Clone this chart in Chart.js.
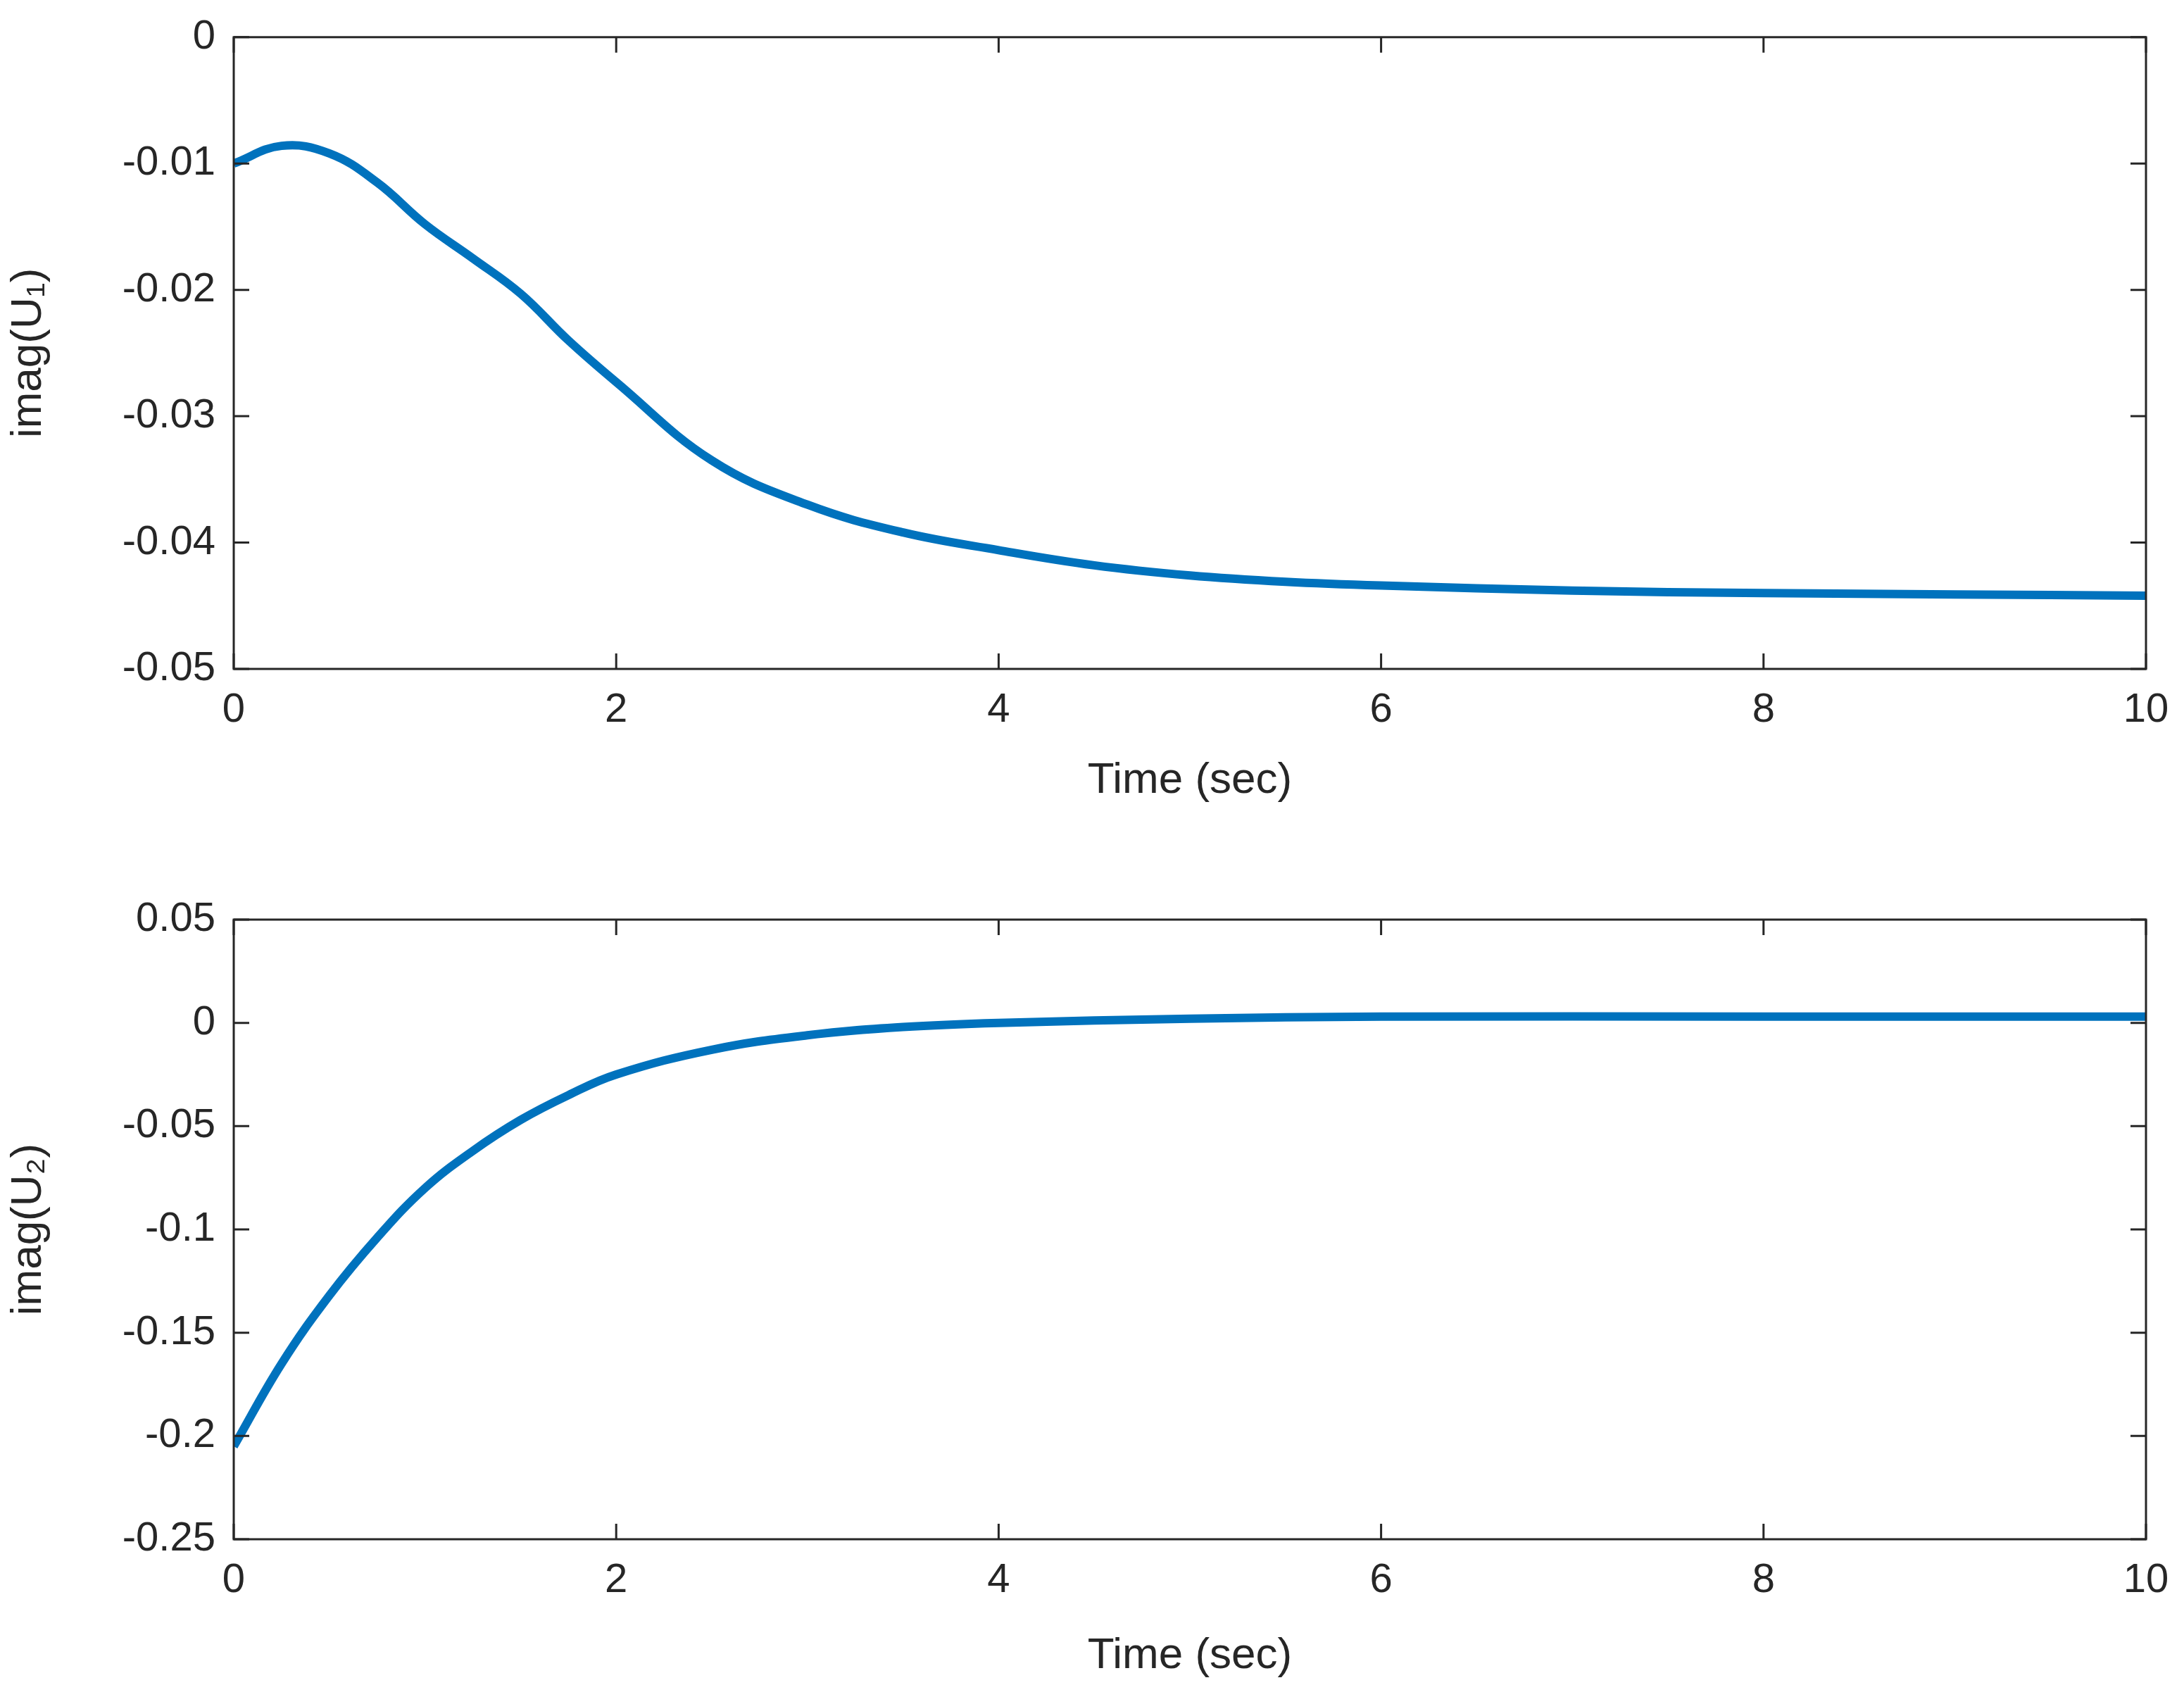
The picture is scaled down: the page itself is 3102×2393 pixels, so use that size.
<!DOCTYPE html>
<html>
<head>
<meta charset="utf-8">
<script src="https://cdn.jsdelivr.net/npm/chart.js@4"></script>
<style>
  body { margin: 0; background: #fff; width: 3102px; height: 2393px; overflow: hidden; }
  .box { position: absolute; left: 0; width: 3102px; }
</style>
</head>
<body>
<div class="box" style="top:0;height:1150px"><canvas id="c1"></canvas></div>
<div class="box" style="top:1196px;height:1197px"><canvas id="c2"></canvas></div>
<script>
const timeTop = [0, 0.25, 0.5, 0.75, 1, 1.25, 1.5, 1.75, 2, 2.5, 3, 3.5, 4, 4.5, 5, 5.5, 6, 7, 8, 9, 10];
const imagU1 = [-0.0100, -0.0086, -0.0092, -0.0115, -0.0148, -0.0175, -0.0203, -0.0240, -0.0273, -0.0335, -0.0370, -0.0392, -0.0406, -0.0418, -0.0426, -0.0431, -0.0434, -0.0438, -0.0440, -0.0441, -0.0442];
const timeBottom = [0, 0.25, 0.5, 0.75, 1, 1.25, 1.5, 1.75, 2, 2.5, 3, 3.5, 4, 5, 6, 8, 10];
const imagU2 = [-0.205, -0.165, -0.132, -0.104, -0.080, -0.062, -0.047, -0.035, -0.025, -0.013, -0.006, -0.002, 0.000, 0.002, 0.003, 0.003, 0.003];

const font = "'Liberation Sans', Arial, sans-serif";
const ink = "#262626";

// draw the axes box with inward ticks on all four sides
const boxTicks = {
  id: "boxTicks",
  afterDraw(chart) {
    const { ctx, chartArea: a, scales } = chart;
    const len = 22;
    ctx.save();
    ctx.strokeStyle = ink;
    ctx.lineWidth = 3;
    ctx.strokeRect(a.left, a.top, a.right - a.left, a.bottom - a.top);
    ctx.beginPath();
    scales.x.ticks.forEach(t => {
      const px = scales.x.getPixelForValue(t.value);
      ctx.moveTo(px, a.bottom); ctx.lineTo(px, a.bottom - len);
      ctx.moveTo(px, a.top); ctx.lineTo(px, a.top + len);
    });
    scales.y.ticks.forEach(t => {
      const py = scales.y.getPixelForValue(t.value);
      ctx.moveTo(a.left, py); ctx.lineTo(a.left + len, py);
      ctx.moveTo(a.right, py); ctx.lineTo(a.right - len, py);
    });
    ctx.stroke();
    ctx.restore();
  }
};

const fmt = v => String(Number(v.toFixed(3)));

function makeChart(id, xs, ys, yLabel, yMin, yMax, yStep, padTop, xHeight) {
  new Chart(document.getElementById(id), {
    type: "line",
    data: {
      datasets: [{
        data: xs.map((x, i) => ({ x: x, y: ys[i] })),
        borderColor: "#0072BD",
        borderWidth: 12,
        pointRadius: 0,
        tension: 0.4,
        fill: false,
      }],
    },
    options: {
      animation: false,
      responsive: true,
      maintainAspectRatio: false,
      devicePixelRatio: 1,
      layout: { padding: { top: padTop, right: 54, left: 0, bottom: 0 } },
      plugins: { legend: { display: false }, tooltip: { enabled: false } },
      scales: {
        x: {
          type: "linear", min: 0, max: 10,
          grid: { display: false },
          border: { display: false },
          ticks: { stepSize: 2, color: ink, font: { family: font, size: 58 }, padding: 16, maxRotation: 0 },
          title: { display: true, text: "Time (sec)", color: ink, font: { family: font, size: 62 }, padding: { top: 0 } },
          afterFit: s => { s.height = xHeight; },
        },
        y: {
          min: yMin, max: yMax,
          grid: { display: false },
          border: { display: false },
          ticks: { stepSize: yStep, color: ink, font: { family: font, size: 58 }, padding: 18, callback: v => fmt(v) },
          title: { display: true, text: yLabel, color: ink, font: { family: font, size: 62 }, padding: { bottom: 4 } },
          afterFit: s => { s.width = 332; },
        },
      },
    },
    plugins: [boxTicks],
  });
}

makeChart("c1", timeTop, imagU1, "imag(U\u2081)", -0.05, 0, 0.01, 51, 200);
makeChart("c2", timeBottom, imagU2, "imag(U\u2082)", -0.25, 0.05, 0.05, 110, 207);
</script>
</body>
</html>
